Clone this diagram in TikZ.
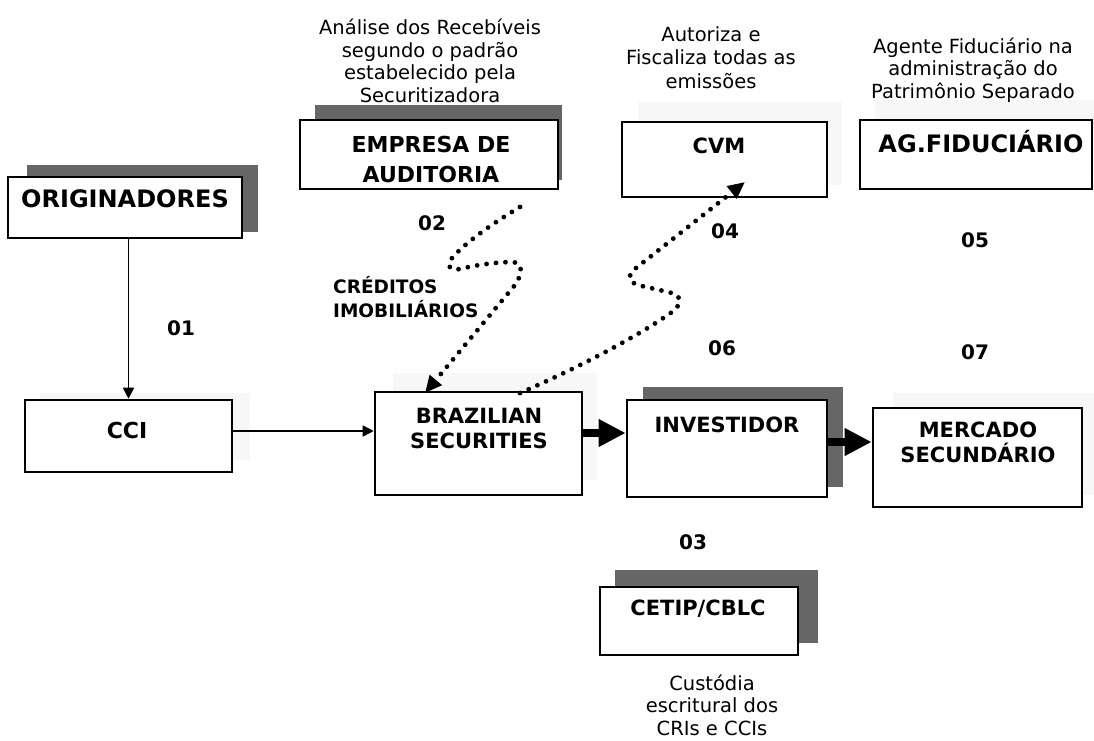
\documentclass[tikz,border=0pt]{standalone}
\usepackage{fontspec}
\setmainfont{DejaVu Sans}
\usetikzlibrary{arrows.meta}
\begin{document}
\begin{tikzpicture}[x=1pt,y=-1pt,
  box/.style={draw, line width=2.6pt, fill=white, inner sep=0pt},
  shd/.style={fill=black!60},
  faint/.style={fill=black!3},
  lab/.style={font=\fontsize{21}{25}\selectfont\bfseries, align=center, inner sep=0pt, anchor=base},
  num/.style={font=\fontsize{20}{24}\selectfont\bfseries, inner sep=0pt, anchor=base},
  note/.style={font=\fontsize{19.5}{22.5}\selectfont, align=center, inner sep=0pt, anchor=base},
  dots/.style={line width=4.8pt, line cap=round, dash pattern=on 0pt off 9.5pt},
  dtip/.style={-{Triangle[length=17pt,width=15pt]}},
  thin/.style={line width=1.7pt, -{Triangle[length=11pt,width=11pt]}},
  fat/.style={line width=7.5pt, -{Triangle[length=27pt,width=26pt]}},
]
\useasboundingbox (0,0) rectangle (1094,740);
\fill[white] (0,0) rectangle (1094,740);

% faint shadows
\fill[faint] (638,102) rectangle (842,185);
\fill[faint] (875,100) rectangle (1094,180);
\fill[faint] (893,393) rectangle (1094,495);
\fill[faint] (393,373) rectangle (597,480);
\fill[faint] (40,393) rectangle (250,460);
% dark shadows
\fill[shd] (27,165) rectangle (258,232);
\fill[shd] (315,105) rectangle (562,180);
\fill[shd] (643,387) rectangle (843,487);
\fill[shd] (615,570) rectangle (818,643);

% boxes
\node[box, minimum width=234, minimum height=61] (orig) at (125,207.5) {};
\node[box, minimum width=258, minimum height=69] (emp) at (429,154.5) {};
\node[box, minimum width=205, minimum height=75] (cvm) at (724.5,159.5) {};
\node[box, minimum width=232, minimum height=69] (agf) at (976,154.5) {};
\node[box, minimum width=207, minimum height=72] (cci) at (128.5,436) {};
\node[box, minimum width=207, minimum height=103] (bs) at (478.5,443.5) {};
\node[box, minimum width=200, minimum height=97] (inv) at (727,448.5) {};
\node[box, minimum width=209, minimum height=99] (ms) at (977.5,457.5) {};
\node[box, minimum width=198, minimum height=68] (cetip) at (699,621) {};

% box labels (anchor=base is the last line's baseline)
\node[lab, font=\fontsize{24}{28}\selectfont\bfseries] (lorig) at (125,207) {ORIGINADORES};
\node[lab, font=\fontsize{22}{30}\selectfont\bfseries] (lemp) at (431,182) {EMPRESA DE\\AUDITORIA};
\node[lab] (lcvm) at (719,153) {CVM};
\node[lab, font=\fontsize{24}{28}\selectfont\bfseries] (lagf) at (981,152) {AG.FIDUCIÁRIO};
\node[lab, font=\fontsize{22}{26}\selectfont\bfseries] (lcci) at (127,438) {CCI};
\node[lab] (lbs) at (479,448) {BRAZILIAN\\SECURITIES};
\node[lab] (linv) at (727,432) {INVESTIDOR};
\node[lab] (lms) at (978,462) {MERCADO\\SECUNDÁRIO};
\node[lab] (lcetip) at (698,615) {CETIP/CBLC};

% annotations
\node[note] (nemp) at (430,102) {Análise dos Recebíveis\\segundo o padrão\\estabelecido pela\\Securitizadora};
\node[note, font=\fontsize{19.5}{23.5}\selectfont] (ncvm) at (711,88) {Autoriza e\\Fiscaliza todas as\\emissões};
\node[note] (nagf) at (973,98) {Agente Fiduciário na\\administração do\\Patrimônio Separado};
\node[note] (ncetip) at (712,735) {Custódia\\escritural dos\\CRIs e CCIs};
\node[lab, font=\fontsize{18.5}{24}\selectfont\bfseries, align=left, anchor=base west] (ncred) at (333,317) {CRÉDITOS\\IMOBILIÁRIOS};

% numbers
\node[num] (n01) at (181,335) {01};
\node[num] (n02) at (432,230) {02};
\node[num] (n03) at (693,549) {03};
\node[num] (n04) at (725,238) {04};
\node[num] (n05) at (975,247) {05};
\node[num] (n06) at (722,355) {06};
\node[num] (n07) at (975,359) {07};

% connectors
\coordinate (ya) at (0,431);
\coordinate (yb) at (0,433);
\coordinate (yc) at (0,442);
\draw[thin] (orig.south -| cci.north) -- (cci.north);
\draw[thin] (cci.east |- ya) -- (bs.west |- ya);
\draw[fat] (bs.east |- yb) -- (inv.west |- yb);
\draw[fat] (inv.east |- yc) -- (ms.west |- yc);

% dotted curves
\coordinate (c1s) at (520,207);
\coordinate (c1e) at (425,393);
\draw[dots, dtip] (c1s) .. controls (490,225) and (465,243) .. (452,258)
  .. controls (446,266) and (450,271) .. (460,269)
  .. controls (480,264) and (500,262) .. (513,262)
  .. controls (524,263) and (522,275) .. (515,285) -- (c1e);
\coordinate (c2s) at (520,393);
\coordinate (c2e) at (745,182);
\draw[dots, dtip] (c2s) .. controls (580,367) and (640,335) .. (672,312)
  .. controls (685,302) and (680,294) .. (668,292) -- (642,286)
  .. controls (628,283) and (626,276) .. (636,268) -- (c2e);
\end{tikzpicture}
\end{document}
